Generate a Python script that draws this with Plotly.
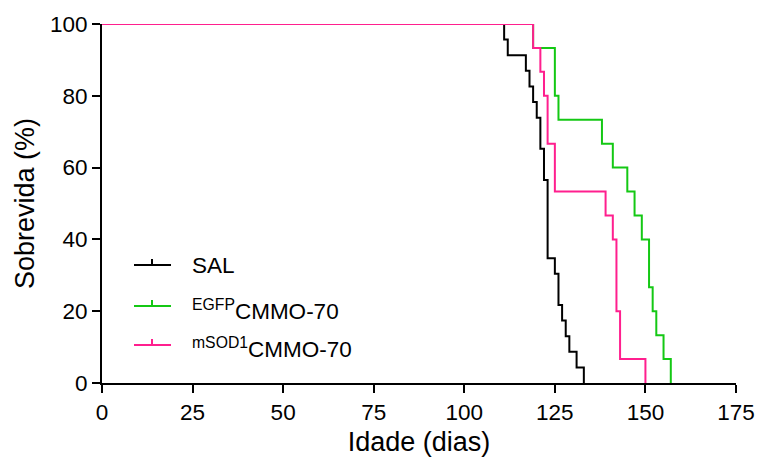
import plotly.graph_objects as go

# Kaplan-Meier survival data (days, % survival)
sal_days = [0, 111, 112, 117, 118, 119, 120, 121, 122, 123, 125, 126, 127, 128, 129, 131, 133]
sal_surv = [100, 95.65, 91.30, 86.96, 82.61, 78.26, 73.91, 65.22, 56.52, 34.78, 30.43, 21.74, 17.39, 13.04, 8.70, 4.35, 0]

egfp_days = [0, 119, 125, 126, 138, 141, 145, 147, 149, 151, 152, 153, 155, 157]
egfp_surv = [100, 93.33, 80.00, 73.33, 66.67, 60.00, 53.33, 46.67, 40.00, 26.67, 20.00, 13.33, 6.67, 0]

msod_days = [0, 119, 121, 122, 123, 125, 139, 141, 142, 143, 150]
msod_surv = [100, 93.33, 86.67, 80.00, 66.67, 53.33, 46.67, 40.00, 20.00, 6.67, 0]

series_names = ["SAL", "<sup>EGFP</sup>CMMO-70", "<sup>mSOD1</sup>CMMO-70"]
series_colors = ["#000000", "#14C814", "#FF1F8E"]

x_ticks = [0, 25, 50, 75, 100, 125, 150, 175]
y_ticks = [0, 20, 40, 60, 80, 100]

FONT = "Arial, Liberation Sans, sans-serif"

fig = go.Figure()
for d, s, name, col in zip([sal_days, egfp_days, msod_days],
                           [sal_surv, egfp_surv, msod_surv],
                           series_names, series_colors):
    fig.add_trace(go.Scatter(x=d, y=s, mode="lines", line=dict(color=col, width=2, shape="hv"),
                             name=name, showlegend=False, cliponaxis=False))

# manual legend (line with small tick mark + label), positions in pixels
H = 460
L, R, T, B = 102, 22, 24, 77
PW, PH = 758 - L - R, H - T - B


def px(x):
    return (x - L) / PW


def py(y):
    return (H - y - B) / PH


leg_y = [265, 306, 345]
for i, col in enumerate(series_colors):
    fig.add_shape(type="line", xref="paper", yref="paper",
                  x0=px(134), x1=px(171), y0=py(leg_y[i]), y1=py(leg_y[i]),
                  line=dict(color=col, width=2), layer="above")
    fig.add_shape(type="line", xref="paper", yref="paper",
                  x0=px(152), x1=px(152), y0=py(leg_y[i]), y1=py(leg_y[i] - 6),
                  line=dict(color=col, width=2), layer="above")

ann_y = [265, 310, 348]
for i, name in enumerate(series_names):
    fig.add_annotation(xref="paper", yref="paper", x=px(190), y=py(ann_y[i]),
                       xanchor="left", yanchor="middle",
                       text=name, showarrow=False, font=dict(size=22.5, color="#000", family=FONT))

fig.update_layout(
    width=758, height=460,
    margin=dict(l=L, r=R, t=T, b=B),
    plot_bgcolor="white", paper_bgcolor="white",
    font=dict(family=FONT, color="#000"),
    xaxis=dict(range=[0, 175], tickvals=x_ticks, showgrid=False, zeroline=False, automargin=False,
               showline=True, linecolor="#000", linewidth=2, ticks="outside", ticklen=8,
               tickwidth=2, tickcolor="#000", tickfont=dict(size=22.5),
               title=dict(text="Idade (dias)", font=dict(size=27), standoff=8)),
    yaxis=dict(range=[0, 100], tickvals=y_ticks, showgrid=False, zeroline=False, automargin=False,
               showline=True, linecolor="#000", linewidth=2, ticks="outside", ticklen=8,
               tickwidth=2, tickcolor="#000", tickfont=dict(size=22.5),
               title=dict(text="Sobrevida (%)", font=dict(size=27), standoff=8)),
)

fig.write_html("out.html")
